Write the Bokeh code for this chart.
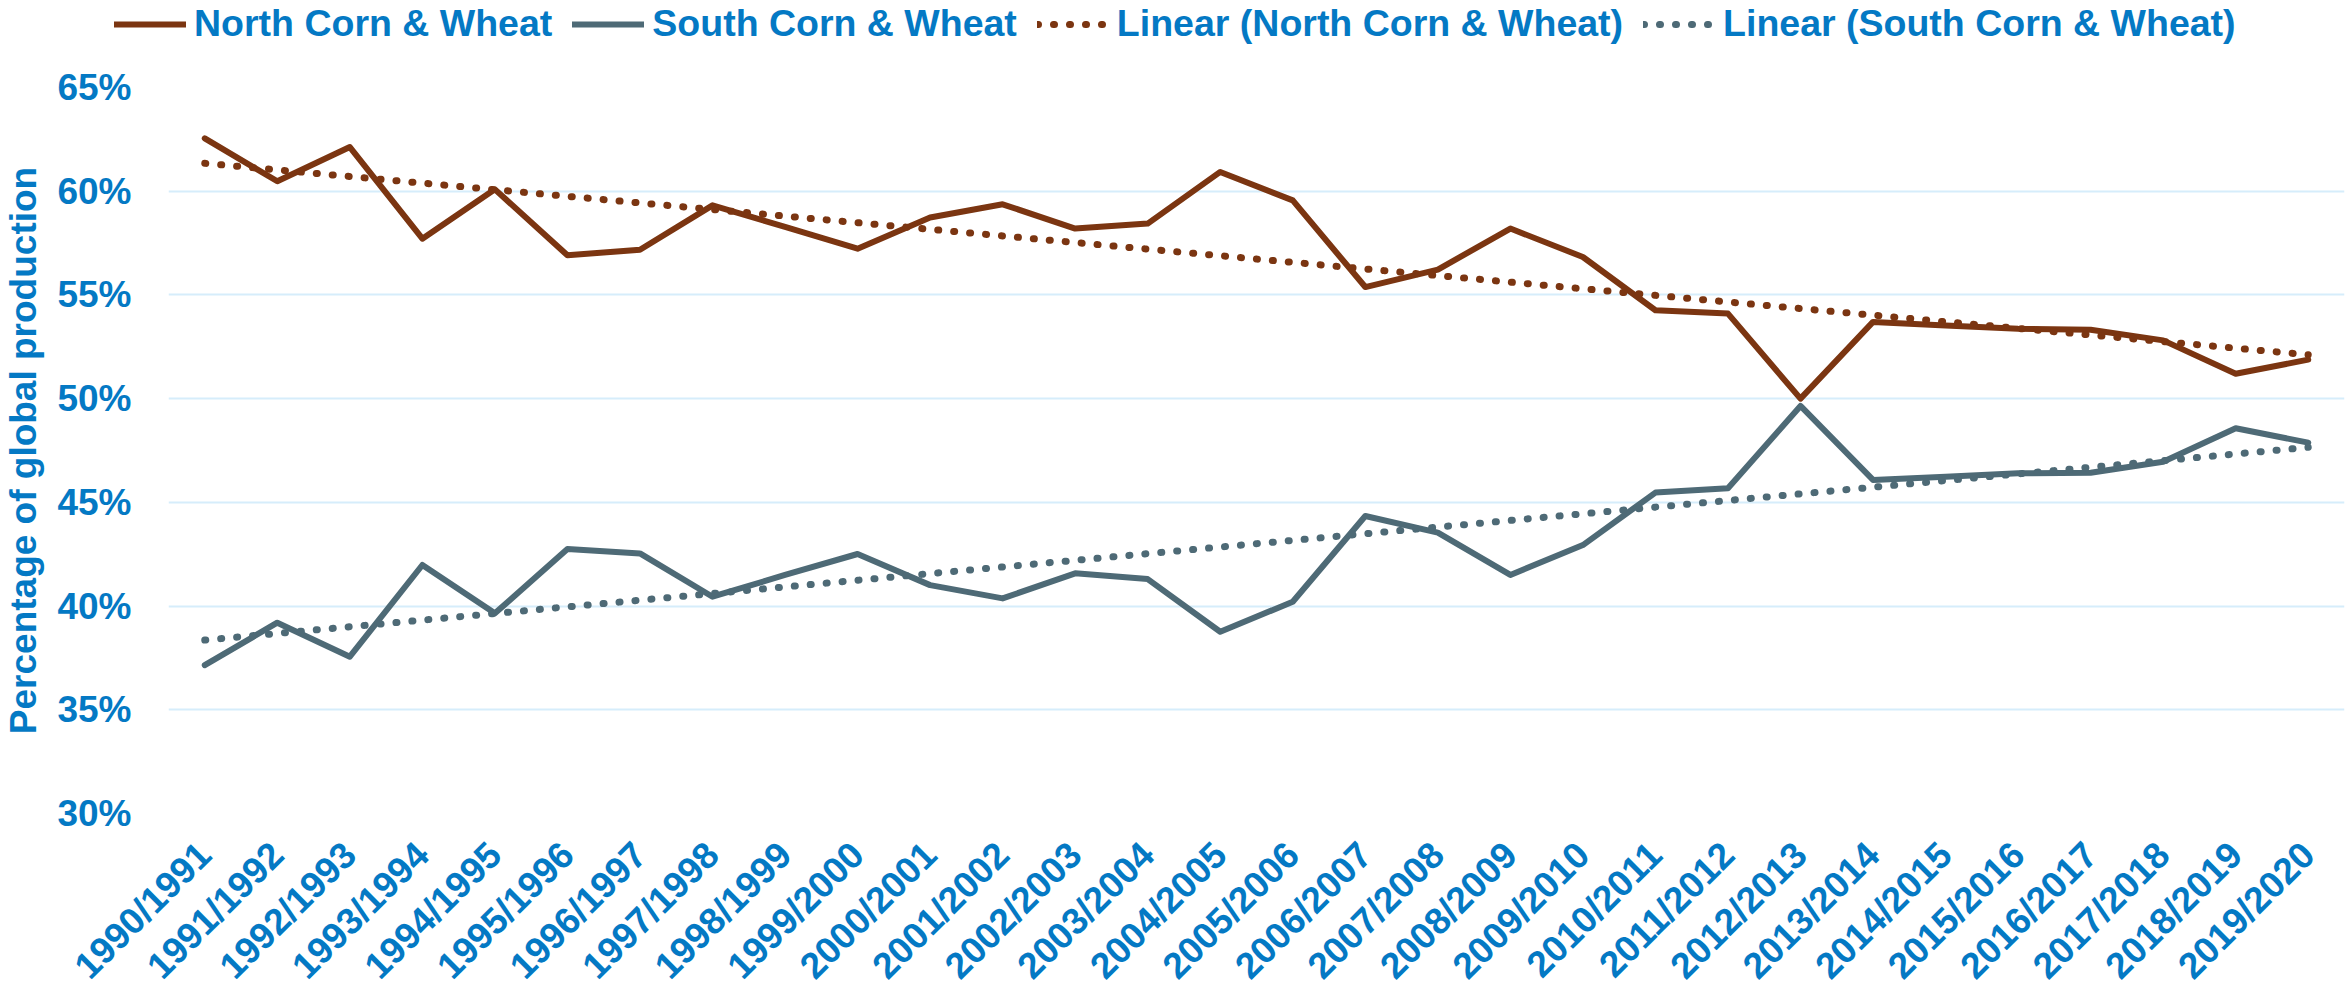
import numpy as np
from math import pi
from bokeh.plotting import figure
from bokeh.layouts import column
from bokeh.models import (Range1d, FixedTicker, PrintfTickFormatter,
                          Legend, LegendItem, ColumnDataSource)
from bokeh.embed import file_html
from bokeh.resources import INLINE

seasons = ["1990/1991", "1991/1992", "1992/1993", "1993/1994", "1994/1995",
           "1995/1996", "1996/1997", "1997/1998", "1998/1999", "1999/2000",
           "2000/2001", "2001/2002", "2002/2003", "2003/2004", "2004/2005",
           "2005/2006", "2006/2007", "2007/2008", "2008/2009", "2009/2010",
           "2010/2011", "2011/2012", "2012/2013", "2013/2014", "2014/2015",
           "2015/2016", "2016/2017", "2017/2018", "2018/2019", "2019/2020"]

north = [62.55, 60.48, 62.13, 57.71, 60.09, 56.91, 57.18, 59.32, 58.28, 57.23,
         58.73, 59.37, 58.20, 58.44, 60.93, 59.56, 55.38, 56.22, 58.20, 56.83,
         54.26, 54.10, 50.00, 53.70, 53.53, 53.37, 53.32, 52.81, 51.20, 51.88]

south = [37.15, 39.20, 37.56, 41.98, 39.65, 42.75, 42.54, 40.45, 41.50, 42.51,
         41.01, 40.37, 41.58, 41.30, 38.76, 40.21, 44.34, 43.54, 41.50, 42.94,
         45.47, 45.68, 49.65, 46.08, 46.24, 46.40, 46.43, 46.96, 48.57, 47.88]

y_ticks = [30, 35, 40, 45, 50, 55, 60, 65]

series_names = ["North Corn & Wheat", "South Corn & Wheat",
                "Linear (North Corn & Wheat)", "Linear (South Corn & Wheat)"]
y_title = "Percentage of global production"

BLUE = "#0479C4"
BROWN = "#7B3511"
SLATE = "#4E6A76"
GRID = "#D6EDFB"
FONT = "Liberation Sans"

SOLID = dict(line_width=6, line_join="round", line_cap="round")
DOTTED = dict(line_width=7, line_dash="1 15", line_cap="round")

pos = list(range(len(seasons)))          # category slots
idx = np.array(pos, dtype=float)
north_trend = np.polyval(np.polyfit(idx, north, 1), idx)
south_trend = np.polyval(np.polyfit(idx, south, 1), idx)

src = ColumnDataSource(dict(pos=pos, north=north, south=south,
                            north_trend=north_trend, south_trend=south_trend))

FRAME_W = 2176
TOTAL_W = 164 + FRAME_W + 4

# ---- main chart ----
p = figure(x_range=Range1d(-0.5, len(seasons) - 0.5), y_range=Range1d(30, 65),
           frame_width=FRAME_W, frame_height=726,
           min_border_left=164, min_border_right=4, min_border_top=37,
           min_border_bottom=120,
           output_backend="svg", toolbar_location=None)
p.outline_line_color = None
p.background_fill_color = "white"
p.border_fill_color = "white"

for ax in (p.xaxis, p.yaxis):
    ax.axis_line_color = None
    ax.major_tick_line_color = None
    ax.minor_tick_line_color = None
    ax.major_label_text_font = FONT
    ax.major_label_text_font_style = "bold"
    ax.major_label_text_color = BLUE
    ax.major_label_text_font_size = "37px"

p.xaxis.ticker = FixedTicker(ticks=pos)
p.xaxis.major_label_overrides = {i: s for i, s in zip(pos, seasons)}
p.xaxis.major_label_orientation = pi / 4
p.xaxis.major_label_standoff = 29

p.yaxis.ticker = FixedTicker(ticks=y_ticks)
p.yaxis.formatter = PrintfTickFormatter(format="%d%%")
p.yaxis.major_label_standoff = 31
p.yaxis.axis_label = y_title
p.yaxis.axis_label_text_font = FONT
p.yaxis.axis_label_text_font_style = "bold"
p.yaxis.axis_label_text_font_size = "37px"
p.yaxis.axis_label_text_color = BLUE
p.yaxis.axis_label_standoff = 10

p.xgrid.grid_line_color = None
p.ygrid.grid_line_color = GRID
p.ygrid.grid_line_width = 2

p.line("pos", "north", source=src, line_color=BROWN, **SOLID)
p.line("pos", "south", source=src, line_color=SLATE, **SOLID)
p.line("pos", "north_trend", source=src, line_color=BROWN, **DOTTED)
p.line("pos", "south_trend", source=src, line_color=SLATE, **DOTTED)

# ---- legend strip above the chart ----
leg = figure(x_range=Range1d(0, 1), y_range=Range1d(0, 1),
             frame_width=TOTAL_W, frame_height=50, min_border=0,
             x_axis_location=None, y_axis_location=None,
             output_backend="svg", toolbar_location=None)
leg.outline_line_color = None
leg.grid.visible = False
leg.background_fill_color = "white"
leg.border_fill_color = "white"

styles = [(BROWN, SOLID), (SLATE, SOLID), (BROWN, DOTTED), (SLATE, DOTTED)]
items = []
for name, (col, sty) in zip(series_names, styles):
    r = leg.line(x=[-10, -9], y=[-10, -10], line_color=col, **sty)
    items.append(LegendItem(label=name, renderers=[r]))

legend = Legend(items=items, location=(114, 5), orientation="horizontal",
                spacing=20, glyph_width=72, glyph_height=40, label_height=40,
                label_standoff=8, padding=0, margin=0,
                border_line_color=None, background_fill_alpha=0,
                label_text_font=FONT, label_text_font_style="bold",
                label_text_font_size="37.5px", label_text_color=BLUE)
leg.add_layout(legend)

layout = column(leg, p, spacing=0)
open("out.html", "w").write(file_html(layout, INLINE))
